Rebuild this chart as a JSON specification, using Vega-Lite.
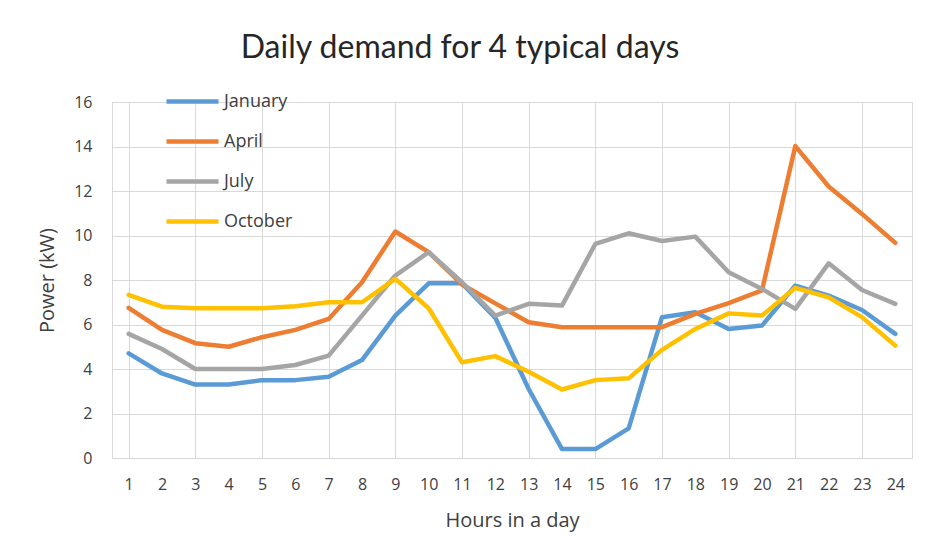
{
  "$schema": "https://vega.github.io/schema/vega-lite/v6.json",
  "width": 800,
  "height": 356,
  "autosize": {"type": "none"},
  "padding": {"left": 112, "top": 102, "right": 24, "bottom": 78},
  "background": "white",
  "title": {"text": "Daily demand for 4 typical days", "fontSize": 32, "font": "Lato", "fontWeight": "normal", "color": "#262626", "anchor": "middle", "frame": "group", "dx": -52, "offset": 8},
  "config": {
    "view": {"stroke": "#d9d9d9", "strokeWidth": 1},
    "font": "Open Sans"
  },
  "datasets": {
    "demand": [
      {"hour": 1, "month": "January", "power": 4.7}, {"hour": 2, "month": "January", "power": 3.8}, {"hour": 3, "month": "January", "power": 3.3}, {"hour": 4, "month": "January", "power": 3.3}, {"hour": 5, "month": "January", "power": 3.5}, {"hour": 6, "month": "January", "power": 3.5}, {"hour": 7, "month": "January", "power": 3.65}, {"hour": 8, "month": "January", "power": 4.4}, {"hour": 9, "month": "January", "power": 6.4}, {"hour": 10, "month": "January", "power": 7.85}, {"hour": 11, "month": "January", "power": 7.85}, {"hour": 12, "month": "January", "power": 6.3}, {"hour": 13, "month": "January", "power": 3.1}, {"hour": 14, "month": "January", "power": 0.4}, {"hour": 15, "month": "January", "power": 0.4}, {"hour": 16, "month": "January", "power": 1.33}, {"hour": 17, "month": "January", "power": 6.33}, {"hour": 18, "month": "January", "power": 6.55}, {"hour": 19, "month": "January", "power": 5.8}, {"hour": 20, "month": "January", "power": 5.95}, {"hour": 21, "month": "January", "power": 7.75}, {"hour": 22, "month": "January", "power": 7.3}, {"hour": 23, "month": "January", "power": 6.65}, {"hour": 24, "month": "January", "power": 5.58},
      {"hour": 1, "month": "April", "power": 6.75}, {"hour": 2, "month": "April", "power": 5.76}, {"hour": 3, "month": "April", "power": 5.16}, {"hour": 4, "month": "April", "power": 5.0}, {"hour": 5, "month": "April", "power": 5.43}, {"hour": 6, "month": "April", "power": 5.76}, {"hour": 7, "month": "April", "power": 6.25}, {"hour": 8, "month": "April", "power": 7.9}, {"hour": 9, "month": "April", "power": 10.18}, {"hour": 10, "month": "April", "power": 9.25}, {"hour": 11, "month": "April", "power": 7.8}, {"hour": 12, "month": "April", "power": 6.95}, {"hour": 13, "month": "April", "power": 6.1}, {"hour": 14, "month": "April", "power": 5.88}, {"hour": 15, "month": "April", "power": 5.88}, {"hour": 16, "month": "April", "power": 5.88}, {"hour": 17, "month": "April", "power": 5.88}, {"hour": 18, "month": "April", "power": 6.48}, {"hour": 19, "month": "April", "power": 6.96}, {"hour": 20, "month": "April", "power": 7.53}, {"hour": 21, "month": "April", "power": 14.02}, {"hour": 22, "month": "April", "power": 12.2}, {"hour": 23, "month": "April", "power": 10.97}, {"hour": 24, "month": "April", "power": 9.67},
      {"hour": 1, "month": "July", "power": 5.58}, {"hour": 2, "month": "July", "power": 4.9}, {"hour": 3, "month": "July", "power": 4.0}, {"hour": 4, "month": "July", "power": 4.0}, {"hour": 5, "month": "July", "power": 4.0}, {"hour": 6, "month": "July", "power": 4.18}, {"hour": 7, "month": "July", "power": 4.6}, {"hour": 8, "month": "July", "power": 6.4}, {"hour": 9, "month": "July", "power": 8.2}, {"hour": 10, "month": "July", "power": 9.25}, {"hour": 11, "month": "July", "power": 7.9}, {"hour": 12, "month": "July", "power": 6.4}, {"hour": 13, "month": "July", "power": 6.93}, {"hour": 14, "month": "July", "power": 6.85}, {"hour": 15, "month": "July", "power": 9.62}, {"hour": 16, "month": "July", "power": 10.1}, {"hour": 17, "month": "July", "power": 9.75}, {"hour": 18, "month": "July", "power": 9.95}, {"hour": 19, "month": "July", "power": 8.35}, {"hour": 20, "month": "July", "power": 7.6}, {"hour": 21, "month": "July", "power": 6.7}, {"hour": 22, "month": "July", "power": 8.75}, {"hour": 23, "month": "July", "power": 7.55}, {"hour": 24, "month": "July", "power": 6.93},
      {"hour": 1, "month": "October", "power": 7.33}, {"hour": 2, "month": "October", "power": 6.8}, {"hour": 3, "month": "October", "power": 6.73}, {"hour": 4, "month": "October", "power": 6.73}, {"hour": 5, "month": "October", "power": 6.73}, {"hour": 6, "month": "October", "power": 6.82}, {"hour": 7, "month": "October", "power": 7.0}, {"hour": 8, "month": "October", "power": 7.0}, {"hour": 9, "month": "October", "power": 8.05}, {"hour": 10, "month": "October", "power": 6.73}, {"hour": 11, "month": "October", "power": 4.3}, {"hour": 12, "month": "October", "power": 4.58}, {"hour": 13, "month": "October", "power": 3.88}, {"hour": 14, "month": "October", "power": 3.08}, {"hour": 15, "month": "October", "power": 3.5}, {"hour": 16, "month": "October", "power": 3.58}, {"hour": 17, "month": "October", "power": 4.86}, {"hour": 18, "month": "October", "power": 5.8}, {"hour": 19, "month": "October", "power": 6.5}, {"hour": 20, "month": "October", "power": 6.4}, {"hour": 21, "month": "October", "power": 7.65}, {"hour": 22, "month": "October", "power": 7.22}, {"hour": 23, "month": "October", "power": 6.33}, {"hour": 24, "month": "October", "power": 5.05}
    ]
  },
  "data": {"name": "demand"},
  "resolve": {"axis": {"x": "independent"}},
  "layer": [
    {
      "mark": {"type": "line", "strokeOpacity": 0},
      "encoding": {
        "x": {"field": "hour", "type": "ordinal", "scale": {"paddingInner": 0, "paddingOuter": 0},
          "axis": {"orient": "bottom", "values": [1, 3, 5, 7, 9, 11, 13, 15, 17, 19, 21, 23], "bandPosition": 0, "grid": true, "gridColor": "#d9d9d9", "gridWidth": 1, "labels": false, "ticks": false, "domain": false, "title": null}},
        "y": {"field": "power", "type": "quantitative"},
        "detail": {"field": "month"}
      }
    },
    {
      "mark": {"type": "line", "strokeWidth": 4.5, "strokeJoin": "round", "strokeCap": "round"},
      "encoding": {
        "x": {"field": "hour", "type": "ordinal",
          "axis": {"orient": "bottom", "labelAngle": 0, "grid": false, "ticks": false, "domain": true, "domainColor": "#d9d9d9", "labelFontSize": 16, "labelColor": "#404040", "labelPadding": 18, "title": "Hours in a day", "titleFontSize": 20, "titleFontWeight": "normal", "titleColor": "#404040", "titlePadding": 18}},
        "y": {"field": "power", "type": "quantitative", "scale": {"domain": [0, 16], "nice": false},
          "axis": {"values": [0, 2, 4, 6, 8, 10, 12, 14, 16], "grid": true, "gridColor": "#d9d9d9", "domain": false, "ticks": false, "labelFontSize": 16, "labelColor": "#404040", "labelPadding": 20, "title": "Power  (kW)", "titleFontSize": 20, "titleFontWeight": "normal", "titleColor": "#404040", "titlePadding": 16}},
        "color": {"field": "month", "type": "nominal",
          "scale": {"domain": ["January", "April", "July", "October"], "range": ["#5B9BD5", "#ED7D31", "#A5A5A5", "#FFC000"]},
          "legend": {"orient": "none", "legendX": 52, "legendY": -29, "title": null, "symbolType": "stroke", "symbolSize": 2704, "symbolStrokeWidth": 4.5, "labelFontSize": 18, "labelColor": "#404040", "labelOffset": 3, "rowPadding": 2}},
        "order": {"field": "hour"}
      }
    }
  ]
}
